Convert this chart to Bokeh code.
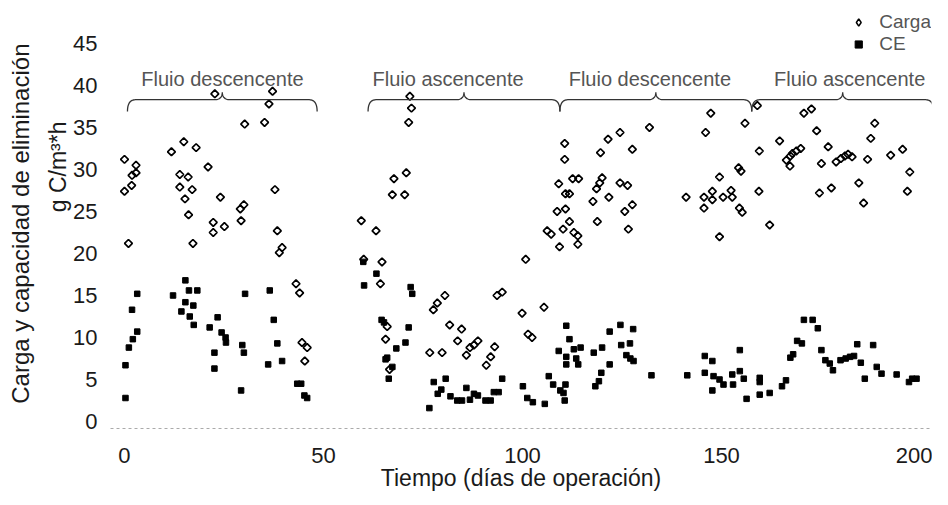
import numpy as np
from bokeh.plotting import figure
from bokeh.models import (Range1d, FixedTicker, Label, Legend, LegendItem, Title)
from bokeh.embed import file_html
from bokeh.resources import INLINE

# ---------------- data ----------------
carga_dia = [0.0, 2.9, 2.9, 1.9, 1.8, 0.0, 1.0,
             11.8, 14.9, 18.0, 21.0, 13.9, 16.0, 13.9, 17.0, 15.2, 16.1, 17.2,
             24.1, 22.3, 22.3, 25.1, 29.1, 30.0, 29.3,
             22.7, 37.2, 36.3, 30.2, 35.2,
             37.8, 38.4, 39.6, 38.9, 43.1, 44.0, 44.6, 45.9, 45.3,
             59.5, 63.2, 60.1, 64.7, 64.3, 66.0, 65.6, 66.6,
             67.7, 70.8, 67.3, 70.4, 71.7, 72.1, 71.4,
             76.7, 79.8, 77.6, 78.6, 80.5, 81.7, 84.7, 83.7, 85.9, 86.8, 87.8, 88.8,
             90.9, 92.0, 93.0, 93.6, 94.9, 100.8, 99.9, 101.4, 102.4, 105.4,
             110.6, 110.6, 109.1, 112.6, 114.1, 110.8, 111.8, 108.7, 110.8, 111.8,
             110.2, 106.2, 107.2, 112.9, 113.9, 109.3, 113.9,
             119.6, 121.5, 124.5, 127.6, 131.9, 120.0, 118.6, 119.4, 117.7, 121.7,
             118.8, 124.5, 126.4, 125.7, 127.6, 126.6,
             141.1, 145.6, 145.6, 147.7, 147.7, 149.5, 150.4, 152.4, 152.7, 149.5,
             146.0, 147.3, 154.3, 154.9, 154.5, 155.2, 155.9,
             159.0, 170.7, 172.6, 173.9, 164.6, 176.8, 159.5, 166.3, 167.8, 168.8,
             169.9, 167.3, 167.2, 175.1, 178.8, 180.0, 181.0, 181.8, 182.8, 186.7,
             188.5, 187.5, 192.5, 195.5, 197.3, 196.7, 159.4, 162.1, 174.6, 177.6,
             184.5, 185.7]
carga_valor = [31.2, 30.5, 29.6, 29.3, 28.1, 27.4, 21.2,
               32.1, 33.3, 32.6, 30.3, 29.4, 29.1, 27.9, 27.6, 26.5, 24.6, 21.2,
               26.7, 23.7, 22.5, 23.2, 25.3, 25.8, 23.9,
               39.0, 39.3, 37.8, 35.4, 35.6,
               27.6, 22.7, 20.7, 20.1, 16.4, 15.3, 9.4, 8.8, 7.2,
               23.9, 22.7, 19.3, 19.0, 16.4, 11.3, 9.8, 6.2,
               28.9, 29.6, 27.0, 27.0, 38.7, 37.3, 35.6,
               8.2, 8.2, 13.3, 14.1, 15.0, 11.5, 11.0, 9.6, 7.9, 8.8, 9.1, 9.6,
               6.7, 7.7, 8.9, 15.0, 15.4, 19.3, 12.9, 10.4, 10.0, 13.6,
               33.1, 31.2, 28.3, 28.9, 28.9, 27.1, 27.1, 25.0, 25.3, 23.8,
               22.9, 22.7, 22.3, 22.5, 22.1, 20.8, 21.1,
               32.0, 33.6, 34.4, 32.4, 35.0, 29.0, 27.7, 28.4, 26.2, 26.7,
               23.8, 28.4, 28.1, 25.0, 25.8, 22.9,
               26.7, 26.7, 25.4, 27.4, 26.4, 29.1, 26.7, 27.5, 26.7, 22.0,
               34.4, 36.7, 30.2, 29.8, 25.4, 24.9, 35.5,
               37.6, 36.7, 37.2, 34.6, 33.4, 32.7, 32.2, 31.1, 31.9, 32.2,
               32.5, 31.6, 30.4, 30.7, 30.9, 31.3, 31.6, 31.8, 31.5, 31.2,
               35.5, 33.7, 31.7, 32.4, 29.7, 27.4, 27.4, 23.4, 27.2, 27.8,
               28.4, 26.0]

ce_dia = [0.25, 0.25, 1.1, 2.1, 3.2, 1.9, 3.2,
          12.2, 15.3, 16.2, 18.3, 15.3, 17.3, 14.3, 16.4, 17.4,
          23.4, 21.4, 24.4, 25.4, 25.5, 22.6, 22.6,
          30.3, 29.6, 30.0, 29.3,
          36.5, 37.5, 38.4, 39.6, 36.1, 43.4, 44.4, 45.2, 45.9,
          60.0, 63.3, 60.2, 71.9, 72.3, 64.6, 65.2, 71.4, 70.6, 68.3, 66.0, 65.6, 67.3, 66.4,
          77.7, 80.7, 78.7, 79.6, 76.6, 81.9, 83.6, 84.8, 85.9, 86.8, 87.8, 88.8,
          90.7, 92.0, 92.8, 94.0, 94.9, 100.1, 101.2, 102.6,
          111.0, 111.8, 109.1, 112.9, 114.6, 111.0, 113.5, 111.0, 114.0, 106.6,
          107.7, 110.8, 109.5, 110.3, 110.6, 105.6,
          117.9, 120.0, 121.9, 124.6, 127.8, 124.8, 127.0, 126.1, 127.1, 127.9,
          121.9, 119.8, 119.2, 118.3,
          132.4, 141.4, 145.8, 147.7, 145.8, 148.0, 147.7, 149.5, 150.5, 152.7,
          152.9, 154.6, 154.6, 155.6, 156.3,
          170.7, 172.9, 174.2, 169.0, 170.2, 175.1, 168.0, 167.3, 176.1, 177.2,
          178.0, 179.9, 181.2, 182.3, 183.3, 184.1, 185.0, 186.0, 188.1, 189.0,
          190.2, 194.0, 197.1, 197.9, 199.0,
          159.6, 159.6, 159.6, 162.1, 165.2, 166.2]
ce_valor = [2.8, 6.7, 8.8, 9.8, 10.7, 13.3, 15.2,
            15.0, 16.8, 15.6, 15.6, 14.2, 13.8, 13.1, 12.5, 11.5,
            12.4, 11.2, 10.6, 10.0, 9.4, 8.2, 6.3,
            15.2, 9.1, 8.2, 3.7,
            15.6, 12.1, 9.3, 7.2, 6.8, 4.5, 4.5, 3.1, 2.8,
            19.0, 17.6, 16.2, 16.0, 15.2, 12.1, 11.8, 11.2, 9.4, 8.7, 7.6, 7.4, 6.5, 5.1,
            4.7, 5.1, 3.3, 3.8, 1.6, 3.0, 2.5, 2.5, 4.0, 2.6, 3.3, 3.1,
            2.5, 2.5, 3.5, 3.5, 5.1, 4.2, 2.8, 2.3,
            11.4, 9.8, 8.4, 8.6, 8.8, 7.7, 7.5, 6.8, 6.8, 5.4,
            4.4, 4.4, 3.7, 3.4, 2.5, 2.1,
            8.2, 8.8, 10.7, 11.5, 11.0, 9.1, 9.3, 7.9, 7.5, 7.2,
            6.8, 5.8, 4.8, 4.2,
            5.5, 5.5, 7.8, 7.2, 5.8, 5.4, 3.7, 5.0, 4.4, 5.6,
            4.4, 8.5, 6.0, 5.1, 2.7,
            12.1, 12.1, 11.1, 9.6, 9.3, 8.5, 8.0, 7.6, 7.3, 6.9,
            6.1, 7.3, 7.5, 7.7, 7.8, 9.2, 7.0, 5.1, 9.1, 6.5,
            5.7, 5.6, 4.7, 5.1, 5.1,
            5.2, 4.7, 3.2, 3.4, 4.2, 4.9]

x_ticks = [0, 50, 100, 150, 200]
y_ticks = [0, 5, 10, 15, 20, 25, 30, 35, 40, 45]

fase_texto = ["Fluio descencente", "Fluio ascencente", "Fluio descencente", "Fluio ascencente"]
fase_inicio = [0.75, 61.2, 109.4, 157.6]
fase_fin = [48.4, 109.4, 157.6, 203.3]
fase_texto_dia = [24.6, 81.3, 132.0, 182.2]   # where each phase caption is centred

FONT = "Liberation Sans"
DARK = "#1a1a1a"
GREY = "#555555"

# ---------------- figure ----------------
p = figure(width=932, height=498, output_backend="svg", toolbar_location=None,
           x_range=Range1d(-3.513, 202.76), y_range=Range1d(-0.83, 48.8),
           min_border_left=109, min_border_right=1, min_border_top=11,
           min_border_bottom=70)
p.outline_line_color = None
p.grid.visible = False
p.background_fill_color = "white"
p.border_fill_color = "white"

for ax in (p.xaxis[0], p.yaxis[0]):
    ax.major_tick_out = 0
    ax.major_tick_in = 0
    ax.minor_tick_out = 0
    ax.minor_tick_in = 0
    ax.major_label_text_font = FONT
    ax.major_label_text_font_size = "22px"
    ax.major_label_text_color = DARK
    ax.axis_label_text_font = FONT
    ax.axis_label_text_font_style = "normal"
    ax.axis_label_text_color = DARK

p.xaxis[0].ticker = FixedTicker(ticks=x_ticks)
p.yaxis[0].ticker = FixedTicker(ticks=y_ticks)
p.xaxis[0].axis_line_color = "#aaaaaa"
p.xaxis[0].axis_line_dash = "3 3"
p.xaxis[0].major_label_standoff = 19
p.xaxis[0].axis_label = "Tiempo (días de operación)"
p.xaxis[0].axis_label_text_font_size = "23px"
p.xaxis[0].axis_label_standoff = -1
p.yaxis[0].axis_line_color = None
p.yaxis[0].major_label_standoff = 13

# second line of the y title (closer to the axis), shifted upwards
p.add_layout(Title(text="g C/m³*h", align="right", offset=110, standoff=0,
                   text_font=FONT, text_font_size="23px",
                   text_font_style="normal", text_color=DARK), "left")
# first line of the y title (outermost)
p.add_layout(Title(text="Carga y capacidad de eliminación", align="right",
                   offset=32, standoff=13, vertical_align="top",
                   text_font=FONT, text_font_size="24px",
                   text_font_style="normal", text_color=DARK), "left")

# ---------------- data marks ----------------
r_ce = p.scatter(ce_dia, ce_valor, marker="square", size=5.5,
                 fill_color="black", line_color="black", line_width=1)
r_carga = p.scatter(carga_dia, carga_valor, marker="square", angle=np.pi / 4,
                    size=5.5, fill_color=None, line_color="black", line_width=1.7)
# legend sample for the open diamonds (legend glyphs ignore the marker angle);
# it holds no visible point of its own
r_carga_key = p.scatter(x=np.array([np.nan]), y=np.array([np.nan]),
                        marker="diamond", fill_color=None,
                        line_color="black", line_width=1.5)

# ---------------- braces for the operating phases ----------------
y_line, y_hook, y_tip = 38.3, 36.9, 39.2
t = np.linspace(0, 1, 14)


def qbez(p0, c, p2):
    xs = (1 - t) ** 2 * p0[0] + 2 * (1 - t) * t * c[0] + t ** 2 * p2[0]
    ys = (1 - t) ** 2 * p0[1] + 2 * (1 - t) * t * c[1] + t ** 2 * p2[1]
    return list(xs), list(ys)


for a, b, tx, txt in zip(fase_inicio, fase_fin, fase_texto_dia, fase_texto):
    m = (a + b) / 2
    d = 2.0
    xs, ys = [], []
    for seg in (qbez((a, y_hook), (a, y_line), (a + d, y_line)),
                qbez((m - d, y_line), (m, y_line), (m, y_tip)),
                qbez((m, y_tip), (m, y_line), (m + d, y_line)),
                qbez((b - d, y_line), (b, y_line), (b, y_hook))):
        xs += seg[0]
        ys += seg[1]
    p.line(xs, ys, line_color="#333333", line_width=1.3)
    p.add_layout(Label(x=tx, y=40.8, text=txt, text_align="center",
                       text_baseline="middle", text_font=FONT,
                       text_font_size="20px", text_color=GREY))

# ---------------- legend ----------------
legend = Legend(items=[LegendItem(label="Carga", renderers=[r_carga_key]),
                       LegendItem(label="CE", renderers=[r_ce])],
                location="top_right", margin=0, padding=0, spacing=0,
                glyph_width=18, glyph_height=22, label_height=22,
                label_standoff=12, border_line_color=None,
                background_fill_alpha=0, label_text_font=FONT,
                label_text_font_size="19px", label_text_color=GREY)
p.add_layout(legend)

open("out.html", "w").write(file_html(p, INLINE))
